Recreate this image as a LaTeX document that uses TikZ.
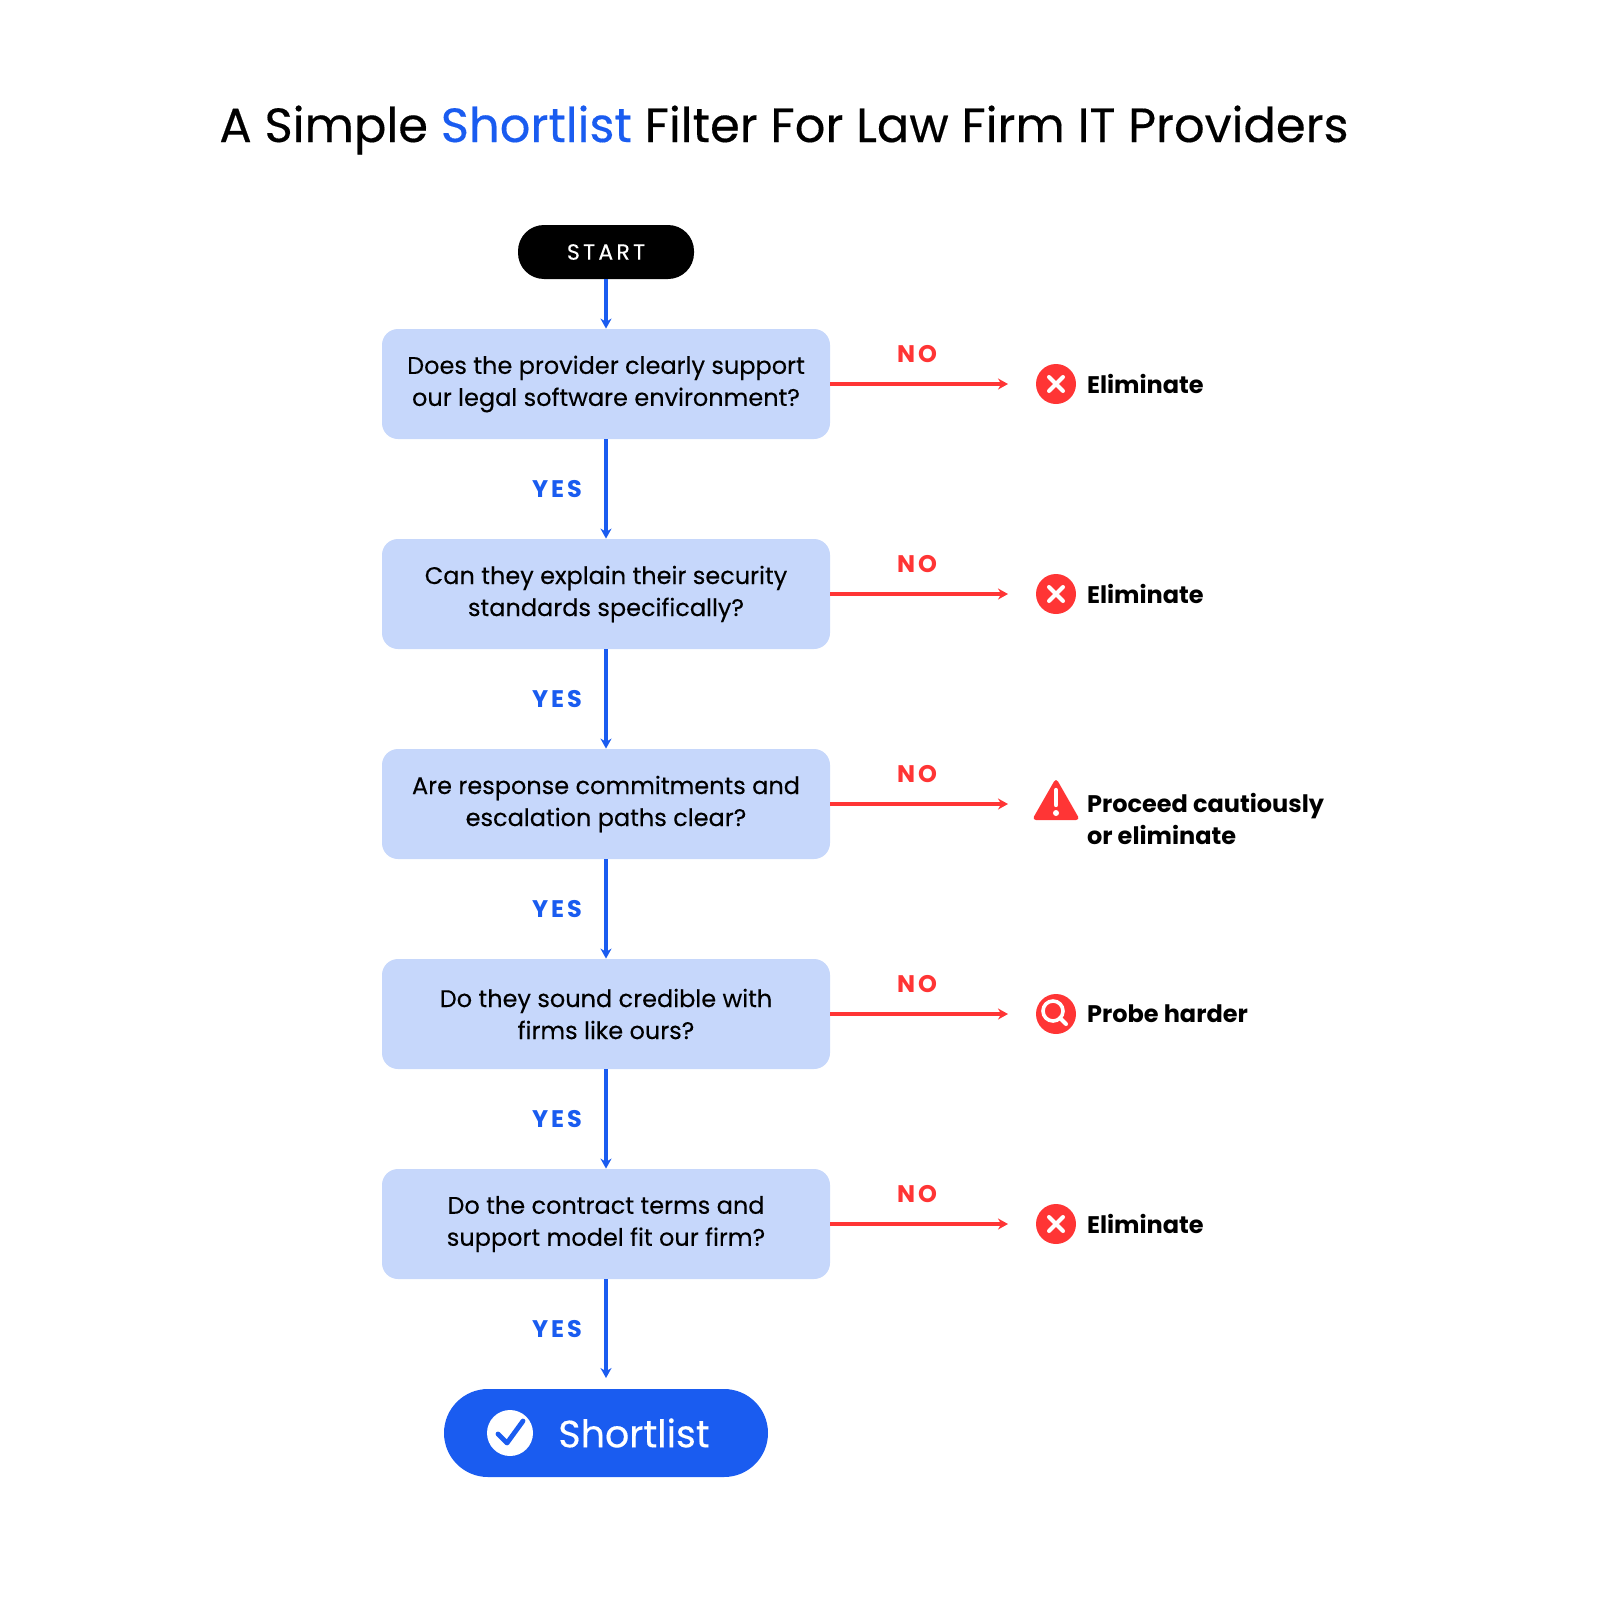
\documentclass[tikz,border=0pt]{standalone}
\usepackage{fontspec}
\setmainfont{Poppins}
\usetikzlibrary{arrows.meta}
\definecolor{bl}{HTML}{1A5CF0}
\definecolor{lb}{HTML}{C6D7FB}
\definecolor{rd}{HTML}{FF3535}
\begin{document}
\begin{tikzpicture}[x=0.5pt,y=-0.5pt,
  q/.style={fill=lb,rounded corners=8pt,minimum width=224pt,minimum height=55pt,align=center,font=\fontsize{12}{16}\selectfont\addfontfeature{FakeBold=0.2},inner sep=0pt},
  yes/.style={text=bl,font=\fontsize{12}{14}\selectfont\bfseries\addfontfeature{LetterSpace=12}},
  no/.style={text=rd,font=\fontsize{12}{14}\selectfont\bfseries\addfontfeature{LetterSpace=12}},
  ya/.style={draw=bl,line width=1.6pt,-{Stealth[length=5pt,width=5.5pt]}},
  na/.style={draw=rd,line width=1.6pt,-{Stealth[length=5pt,width=5.5pt]}},
  res/.style={anchor=west,align=left,font=\fontsize{12}{16}\selectfont\bfseries},
  ic/.style={circle,fill=rd,minimum size=20pt,inner sep=0pt}]
\useasboundingbox (0,0) rectangle (1600,1600);
\node (title) at (784,130) {\fontsize{24}{30}\selectfont\addfontfeature{FakeBold=0.3}A Simple \textcolor{bl}{Shortlist} Filter For Law Firm IT Providers};
\node[fill=black,rounded corners=13pt,minimum width=88pt,minimum height=27pt,text=white,font=\fontsize{11}{13}\selectfont\addfontfeature{FakeBold=0.3,LetterSpace=15}] (start) at (606,252) {START};
\node[q] (q1) at (606,384) {Does the provider clearly support\\our legal software environment?};
\node[q] (q2) at (606,594) {Can they explain their security\\standards specifically?};
\node[q] (q3) at (606,804) {Are response commitments and\\escalation paths clear?};
\node[q] (q4) at (606,1014) {Do they sound credible with\\firms like ours?};
\node[q] (q5) at (606,1224) {Do the contract terms and\\support model fit our firm?};
\node[fill=bl,rounded corners=22pt,minimum width=162pt,minimum height=44pt] (sl) at (606,1433) {};
\node[text=white,font=\fontsize{19}{22}\selectfont\addfontfeature{FakeBold=0.3}] (slt) at (634,1433) {Shortlist};
\node[circle,fill=white,minimum size=23pt,inner sep=0pt] (ck) at (510,1433) {};
\draw[bl,line width=2.4pt,line cap=round,line join=round] (498,1434) -- (507,1443) -- (523,1421);
\coordinate (send) at (606,1378);
\draw[ya] (start) -- (q1);
\draw[ya] (q1) -- (q2);
\draw[ya] (q2) -- (q3);
\draw[ya] (q3) -- (q4);
\draw[ya] (q4) -- (q5);
\draw[ya] (q5.south) -- (send);
\foreach \y in {489,699,909,1119,1329} \node[yes] at (557,\y) {YES};
\foreach \i/\y in {1/384,2/594,3/804,4/1014,5/1224}{
  \node[no] at (917,\y-30) {NO};
  \coordinate (e\i) at (1008,\y);
  \draw[na] (q\i.east |- e\i) -- (e\i);
}
\foreach \y in {384,594,1224}{
  \node[ic] at (1056,\y) {};
  \draw[white,line width=2pt,line cap=round] (1049,\y-7) -- (1063,\y+7) (1049,\y+7) -- (1063,\y-7);
  \node[res] at (1080,\y) {Eliminate};
}
\fill[rd,rounded corners=2pt] (1056,778) -- (1080,820) -- (1032,820) -- cycle;
\draw[white,line width=2.2pt,line cap=round] (1056,790) -- (1056,805);
\fill[white] (1056,813) circle (1.5pt);
\node[res] at (1080,819) {Proceed cautiously\\or eliminate};
\node[ic] at (1056,1014) {};
\draw[white,line width=1.8pt] (1053,1011) circle (5pt);
\draw[white,line width=2pt,line cap=round] (1060,1018) -- (1066,1024);
\node[res] at (1080,1014) {Probe harder};
\end{tikzpicture}
\end{document}
